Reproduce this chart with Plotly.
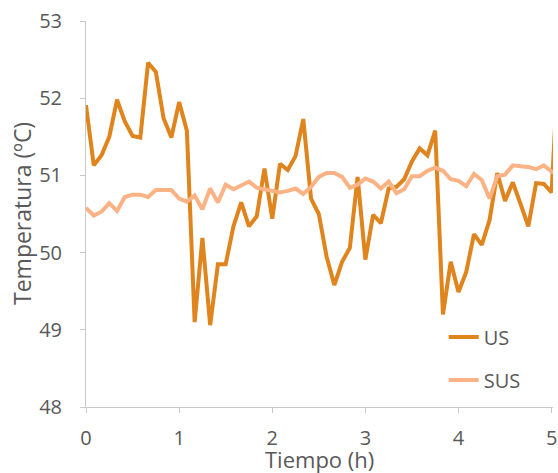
import plotly.graph_objects as go

# lecturas cada 5 min (0 a 5 h, más una lectura posterior recortada por el eje)
tiempo_h = [i / 12 for i in range(62)]

temp_us = [
    51.91, 51.13, 51.26, 51.50, 51.98, 51.70, 51.51, 51.49, 52.46, 52.34,
    51.74, 51.49, 51.95, 51.58, 49.10, 50.19, 49.06, 49.85, 49.85, 50.34,
    50.65, 50.34, 50.47, 51.09, 50.44, 51.15, 51.07, 51.25, 51.73, 50.70,
    50.50, 49.95, 49.58, 49.88, 50.06, 50.98, 49.91, 50.49, 50.38, 50.83,
    50.85, 50.95, 51.18, 51.35, 51.26, 51.58, 49.20, 49.88, 49.49, 49.75,
    50.24, 50.10, 50.42, 51.03, 50.67, 50.91, 50.63, 50.34, 50.90, 50.89,
    50.78, 52.70,
]

temp_sus = [
    50.58, 50.48, 50.53, 50.64, 50.54, 50.72, 50.75, 50.75, 50.72, 50.81,
    50.81, 50.81, 50.70, 50.66, 50.74, 50.56, 50.83, 50.65, 50.88, 50.82,
    50.87, 50.92, 50.84, 50.82, 50.80, 50.78, 50.80, 50.83, 50.76, 50.85,
    50.98, 51.03, 51.03, 50.98, 50.84, 50.88, 50.96, 50.92, 50.83, 50.92,
    50.77, 50.82, 50.99, 50.99, 51.06, 51.10, 51.06, 50.95, 50.93, 50.86,
    51.02, 50.94, 50.70, 50.99, 51.01, 51.13, 51.12, 51.11, 51.08, 51.13,
    51.05, 51.00,
]

x_ticks = [0, 1, 2, 3, 4, 5]
y_ticks = [48, 49, 50, 51, 52, 53]

FONT = "Open Sans"
GRIS_TEXTO = "#595959"
GRIS_EJE = "#C9C9C9"

fig = go.Figure()

fig.add_trace(
    go.Scatter(
        x=tiempo_h,
        y=temp_us,
        mode="lines",
        name="US",
        legendgroup="us",
        line=dict(color="#E0841E", width=4),
    )
)

fig.add_trace(
    go.Scatter(
        x=tiempo_h,
        y=temp_sus,
        mode="lines",
        name="SUS",
        legendgroup="sus",
        line=dict(color="#FBB285", width=4),
    )
)

fig.update_xaxes(
    range=[0, 5.015],
    tickvals=x_ticks,
    automargin=False,
    showgrid=False,
    zeroline=False,
    showline=True,
    linecolor=GRIS_EJE,
    linewidth=1,
    ticks="outside",
    ticklen=5,
    tickcolor=GRIS_EJE,
    ticklabelstandoff=8,
    tickfont=dict(family=FONT, size=20, color=GRIS_TEXTO),
)

fig.update_yaxes(
    range=[48, 53],
    tickvals=y_ticks,
    automargin=False,
    showgrid=False,
    zeroline=False,
    showline=True,
    linecolor=GRIS_EJE,
    linewidth=1,
    ticks="outside",
    ticklen=5,
    tickcolor=GRIS_EJE,
    ticklabelstandoff=14,
    tickfont=dict(family=FONT, size=20, color=GRIS_TEXTO),
)

# títulos de los ejes
fig.add_annotation(
    text="Tiempo (h)",
    xref="paper", yref="paper",
    x=0.5, y=0,
    yanchor="middle",
    yshift=-52,
    showarrow=False,
    font=dict(family=FONT, size=22, color=GRIS_TEXTO),
)

fig.add_annotation(
    text="Temperatura (ºC)",
    xref="paper", yref="paper",
    x=0, y=0.5,
    xanchor="center",
    xshift=-64,
    textangle=-90,
    showarrow=False,
    font=dict(family=FONT, size=23, color=GRIS_TEXTO),
)

fig.update_layout(
    width=558,
    height=473,
    margin=dict(l=86, r=5, t=21, b=66),
    paper_bgcolor="white",
    plot_bgcolor="white",
    showlegend=True,
    legend=dict(
        x=0.766,
        y=0.232,
        xanchor="left",
        yanchor="top",
        bgcolor="rgba(0,0,0,0)",
        tracegroupgap=14,
        font=dict(family=FONT, size=20, color=GRIS_TEXTO),
    ),
)

fig.write_html(
    "out.html",
    config={"displayModeBar": False},
    post_script="document.body.style.margin = '0';",
)
